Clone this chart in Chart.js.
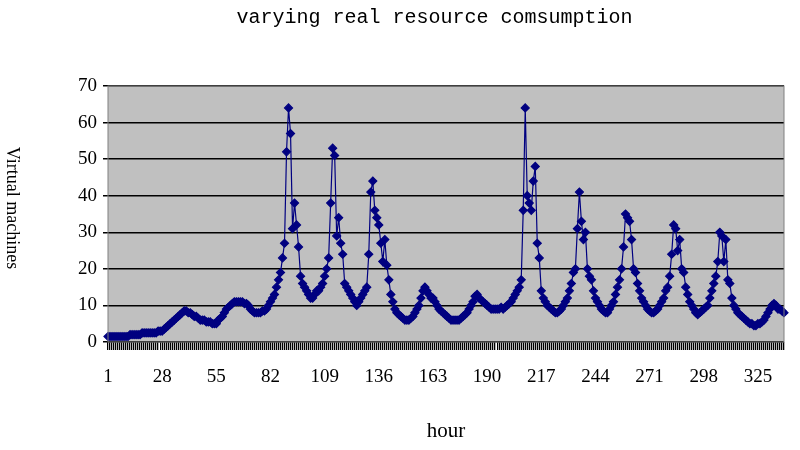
<!DOCTYPE html>
<html>
<head>
<meta charset="utf-8">
<script src="https://cdn.jsdelivr.net/npm/chart.js@4"></script>
<style>body{margin:0;background:#fff}#wrap{width:800px;height:450px}</style>
</head>
<body>
<div id="wrap"><canvas id="c"></canvas></div>
<script>
// virtual machines used per hour
const machines = [
  1.5,1.5,1.5,1.5,1.5,1.5,1.5,1.5,1.5,1.5,
  1.5,2,2,2,2,2,2,2.5,2.5,2.5,
  2.5,2.5,2.5,2.5,2.5,3,3,3,3.5,4,
  4.5,5,5.5,6,6.5,7,7.5,8,8.5,8.5,
  8,8,7.5,7,7,6.5,6,6,6,5.5,
  5.5,5.5,5,5,5,6,6.5,7,8,9,
  9.5,10,10.5,11,11,11,11,11,10.5,10.5,
  10,9,8.5,8,8,8,8,8.5,8.5,9,
  10,11,12,13,15,17,19,23,27,52,
  64,57,31,38,32,26,18,16,15,14,
  13,12,12,13,14,14,15,16,18,20,
  23,38,53,51,29,34,27,24,16,15,
  14,13,12,11,10,11,12,13,14,15,
  24,41,44,36,34,32,27,22,28,21,
  17,13,11,9,8,7.5,7,6.5,6,6,
  6,6.5,7,8,9,10,12,14,15,14,
  13,12,12,11,10,9,8.5,8,7.5,7,6.5,6,6,6,
  6,6,6.5,7,7.5,8,9,10,11,12.5,
  13,12,11.5,11,10.5,10,9.5,9,9,9,9,9,9.5,
  9,9.5,10,10.5,11,12,13,14,15,17,
  36,64,40,38,36,44,48,27,23,14,
  12,11,10,9.5,9,8.5,8,8,8.5,9,
  10,11,12,14,16,19,20,31,41,33,
  28,30,20,18,17,14,12,11,10,9,
  8.5,8,8,9,10,11,13,15,17,
  20,26,35,34,33,28,20,19,16,14,
  12,11,10,9,8.5,8,8,8.5,9,10,
  11,12,14,15,18,24,32,31,25,28,
  20,19,15,13,11,10,9,8,7.5,
  8,8.5,9,9.5,10,12,14,16,18,22,
  30,29,22,28,17,16,12,10,9,8,
  7.5,7,6.5,6,5.5,5,5,4.5,4.5,5,
  5,5.5,6,7,8,9,10,10.5,10,9,
  9,8.5,8
];
const hours = machines.map((v, i) => i + 1);
const yTicks = [0, 10, 20, 30, 40, 50, 60, 70];

const plotBg = {
  id: 'plotBg',
  beforeDraw(chart) {
    const { ctx, chartArea: a } = chart;
    ctx.save();
    ctx.fillStyle = '#c0c0c0';
    ctx.fillRect(a.left, a.top, a.right - a.left, a.bottom - a.top);
    ctx.restore();
  },
  afterDraw(chart) {
    const { ctx, chartArea: a } = chart;
    ctx.save();
    ctx.strokeStyle = '#808080';
    ctx.lineWidth = 1;
    ctx.strokeRect(a.left, a.top, a.right - a.left, a.bottom - a.top);
    ctx.translate(12, 208);
    ctx.rotate(Math.PI / 2);
    ctx.fillStyle = '#000';
    ctx.font = '18px "Liberation Serif"';
    ctx.textAlign = 'center';
    ctx.textBaseline = 'middle';
    ctx.fillText('Virtual machines', 0, 0);
    ctx.restore();
  }
};

new Chart(document.getElementById('c'), {
  type: 'line',
  data: {
    labels: hours,
    datasets: [{
      data: machines,
      borderColor: '#000080',
      backgroundColor: '#000080',
      borderWidth: 1.2,
      pointStyle: 'rectRot',
      pointRadius: 4,
      pointHoverRadius: 4,
      tension: 0
    }]
  },
  options: {
    responsive: true,
    maintainAspectRatio: false,
    animation: false,
    layout: { padding: { left: 72, right: 3, top: 6, bottom: 2 } },
    plugins: {
      legend: { display: false },
      tooltip: { enabled: false },
      title: {
        display: true,
        text: 'varying real resource comsumption',
        color: '#000',
        font: { family: 'Liberation Mono', size: 20, weight: 'normal' },
        padding: { top: 0, bottom: 56 }
      }
    },
    scales: {
      x: {
        offset: false,
        grid: { display: true, drawOnChartArea: false, color: '#000', tickLength: 8, lineWidth: 1.3 },
        border: { display: false },
        ticks: {
          autoSkip: false,
          maxRotation: 0,
          color: '#000',
          padding: 16,
          font: { family: 'Liberation Serif', size: 19 },
          callback: (v, i) => (i % 27 === 0 ? String(hours[i]) : '')
        },
        title: { display: true, text: 'hour', color: '#000', font: { family: 'Liberation Serif', size: 21 }, padding: { top: 14 } }
      },
      y: {
        min: 0,
        max: 70,
        afterBuildTicks: s => { s.ticks = yTicks.map(v => ({ value: v })); },
        grid: { color: '#000', lineWidth: 1.5, drawTicks: true, tickLength: 5 },
        border: { display: false },
        ticks: { color: '#000', padding: 6, font: { family: 'Liberation Serif', size: 19 } }
      }
    }
  },
  plugins: [plotBg]
});
</script>
</body>
</html>
